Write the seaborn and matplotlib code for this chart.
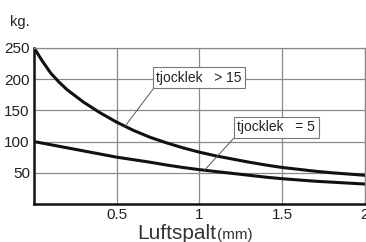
import matplotlib
matplotlib.use('Agg')
import matplotlib.pyplot as plt
import seaborn as sns
import pandas as pd
import numpy as np

# values
luftspalt = [0, 0.05, 0.1, 0.15, 0.2, 0.3, 0.4, 0.5, 0.6, 0.7, 0.8, 0.9, 1.0,
             1.1, 1.2, 1.3, 1.4, 1.5, 1.6, 1.7, 1.8, 1.9, 2.0]
kg_over_15 = [250, 229, 210, 195.5, 183, 163, 146, 131, 118, 107, 98, 90, 83,
              77, 72, 67, 62.5, 58.5, 55.5, 52.5, 50, 48, 46]
kg_eq_5 = [100, 97.5, 95, 92.5, 90, 85, 80, 75, 71, 67, 62.5, 58.5, 55,
           52, 49, 46, 43, 40.5, 38.5, 36.5, 35, 33.5, 32]

x_ticks = [0.5, 1, 1.5, 2]
x_tick_labels = ['0.5', '1', '1.5', '2']
y_ticks = [50, 100, 150, 200, 250]
series_names = ['tjocklek   > 15', 'tjocklek   = 5']

df = pd.DataFrame({
    'x': luftspalt * 2,
    'kg': kg_over_15 + kg_eq_5,
    'serie': [series_names[0]] * len(luftspalt) + [series_names[1]] * len(luftspalt),
})

sns.set_style('white')
plt.rcParams['font.family'] = ['Liberation Sans Narrow', 'Liberation Sans', 'DejaVu Sans']

fig = plt.figure(figsize=(3.66, 2.42), dpi=100)
ax = fig.add_axes([0.093, 0.157, 0.904, 0.645])

sns.lineplot(data=df, x='x', y='kg', hue='serie', palette=['#111111', '#111111'],
             linewidth=2.2, legend=False, ax=ax)

ax.set_xlim(0, 2)
ax.set_ylim(0, 250)
ax.set_xticks(x_ticks)
ax.set_xticklabels(x_tick_labels)
ax.set_yticks(y_ticks)
ax.tick_params(length=0, labelsize=11, colors='#222222', pad=3)
ax.grid(True, color='#8a8a8a', lw=0.9)
ax.set_axisbelow(True)

for side in ['top', 'right']:
    ax.spines[side].set_color('#8a8a8a')
    ax.spines[side].set_linewidth(0.9)
for side in ['left', 'bottom']:
    ax.spines[side].set_color('#111111')
    ax.spines[side].set_linewidth(1.8)

ax.set_xlabel('')
ax.set_ylabel('')

fig.text(0.055, 0.91, 'kg.', fontsize=10.5, ha='center', va='center', color='#222222')
fig.text(0.59, 0.012, 'Luftspalt', fontsize=15, ha='right', va='baseline', color='#333333')
fig.text(0.592, 0.012, '(mm)', fontsize=11, ha='left', va='baseline', color='#333333')

box = dict(boxstyle='square,pad=0.25', fc='white', ec='#777777', lw=0.8)
arrow = dict(arrowstyle='-', color='#555555', lw=0.7, relpos=(0, 0), shrinkA=0, shrinkB=0)

x1 = 0.55
ax.annotate(series_names[0], xy=(x1, np.interp(x1, luftspalt, kg_over_15)),
            xytext=(0.997, 202), ha='center', va='center', fontsize=10,
            color='#222222', bbox=box, arrowprops=arrow)
x2 = 1.03
ax.annotate(series_names[1], xy=(x2, np.interp(x2, luftspalt, kg_eq_5)),
            xytext=(1.465, 123), ha='center', va='center', fontsize=10,
            color='#222222', bbox=box, arrowprops=arrow)

fig.savefig('out.png', dpi=100)
